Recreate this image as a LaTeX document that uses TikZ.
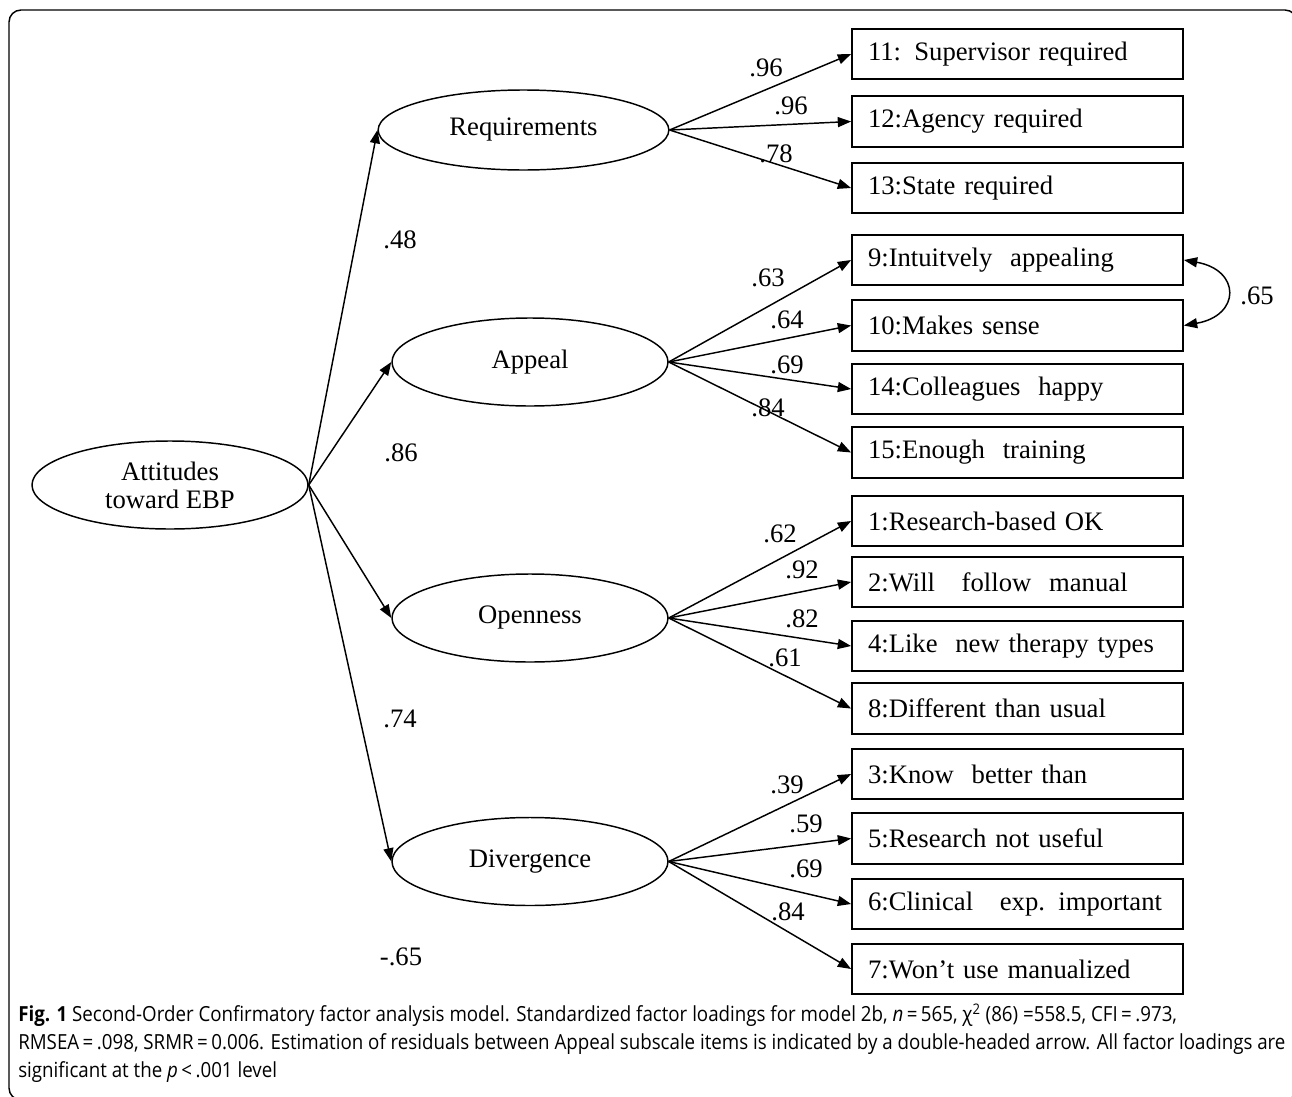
\documentclass[tikz,border=0pt]{standalone}
\usepackage{fontspec}
\setmainfont{Liberation Serif}
\newfontfamily\capfont{Open Sans}[FakeStretch=0.9]
\usetikzlibrary{arrows.meta,shapes.geometric}
\begin{document}
\begin{tikzpicture}[x=0.75pt,y=-0.75pt,
  lat/.style={draw,ellipse,line width=1.1pt,inner sep=0pt,minimum width=207pt,minimum height=66pt,font=\fontsize{20}{21}\selectfont,align=center},
  item/.style={draw,rectangle,line width=1.3pt,minimum height=38pt,text width=224.25pt,inner xsep=12pt,inner ysep=0pt,align=left,font=\fontsize{20}{21}\selectfont},
  ld/.style={font=\fontsize{20}{21}\selectfont,inner sep=0pt},
  arr/.style={-{Triangle[length=10pt,width=7.5pt]},line width=1.1pt},
  captxt/.style={font=\capfont\fontsize{15.6}{18}\selectfont,inner sep=0pt,anchor=base west},
]
\useasboundingbox (0,0) rectangle (1292,1096);
\begin{scope}
\clip (0,0) rectangle (1292,1096);
\draw[line width=1.1pt,rounded corners=9pt] (9,10) rectangle (1297,1100);
\end{scope}

% latent variables
\node[lat] (att) at (170,485) {Attitudes\\toward EBP};
\node[lat,minimum width=218pt,minimum height=60pt] (req) at (523.5,130) {Requirements};
\node[lat] (app) at (530,362) {Appeal};
\node[lat] (opn) at (530,618) {Openness};
\node[lat] (div) at (530,861.5) {Divergence};

% items
\node[item] (b11) at (1017.5,54) {11: Supervisor required};
\node[item] (b12) at (1017.5,121.5) {12:Agency required};
\node[item] (b13) at (1017.5,188) {13:State required};
\node[item] (b9) at (1017.5,260) {9:Intuitvely\ \ appealing};
\node[item] (b10) at (1017.5,325.5) {10:Makes sense};
\node[item] (b14) at (1017.5,389) {14:Colleagues\ \ happy};
\node[item] (b15) at (1017.5,452.5) {15:Enough\ \ training};
\node[item] (b1) at (1017.5,521) {1:Research-based OK};
\node[item] (b2) at (1017.5,582) {2:Will\ \ \ follow\ \ manual};
\node[item] (b4) at (1017.5,646) {4:Like\ \ new therapy types};
\node[item] (b8) at (1017.5,708.5) {8:Different than usual};
\node[item] (b3) at (1017.5,774) {3:Know\ \ better than};
\node[item] (b5) at (1017.5,838.5) {5:Research not useful};
\node[item] (b6) at (1017.5,904) {6:Clinical\ \ \ exp. important};
\node[item] (b7) at (1017.5,969) {7:Won’t use manualized};

% second-order paths
\draw[arr] (att.east) -- (req.west);
\draw[arr] (att.east) -- (app.west);
\draw[arr] (att.east) -- (opn.west);
\draw[arr] (att.east) -- (div.west);
\node[ld] (l48) at (400,240) {.48};
\node[ld] (l86) at (401,453) {.86};
\node[ld] (l74) at (400,719) {.74};
\node[ld] (l65m) at (401,957) {-.65};

% first-order paths
\foreach \b in {b11,b12,b13} \draw[arr] (req.east) -- (\b.west);
\foreach \b in {b9,b10,b14,b15} \draw[arr] (app.east) -- (\b.west);
\foreach \b in {b1,b2,b4,b8} \draw[arr] (opn.east) -- (\b.west);
\foreach \b in {b3,b5,b6,b7} \draw[arr] (div.east) -- (\b.west);

\node[ld] (r1) at (766,68) {.96};
\node[ld] (r2) at (791,106) {.96};
\node[ld] (r3) at (776,154) {.78};
\node[ld] (a1) at (768,278) {.63};
\node[ld] (a2) at (787,320) {.64};
\node[ld] (a3) at (787,365) {.69};
\node[ld] (a4) at (768,408) {.84};
\node[ld] (o1) at (780,534) {.62};
\node[ld] (o2) at (802,570) {.92};
\node[ld] (o3) at (802,619) {.82};
\node[ld] (o4) at (785,658) {.61};
\node[ld] (d1) at (787,785) {.39};
\node[ld] (d2) at (806,824) {.59};
\node[ld] (d3) at (806,869) {.69};
\node[ld] (d4) at (788,912) {.84};

% correlated residuals
\draw[{Triangle[length=10pt,width=7.5pt]}-{Triangle[length=10pt,width=7.5pt]},line width=1.1pt]
  (b9.east) .. controls +(57,10) and +(57,-10) .. (b10.east);
\node[ld] (c65) at (1257,296) {.65};

% caption
\node[captxt] (cap1) at (18,1021) {\textbf{Fig. 1} Second-Order Confirmatory factor analysis model. Standardized factor loadings for model 2b, \textit{n}\,=\,565, χ\textsuperscript{2} (86) =558.5, CFI\,=\,.973,};
\node[captxt] (cap2) at (18,1049) {RMSEA\,=\,.098, SRMR\,=\,0.006. Estimation of residuals between Appeal subscale items is indicated by a double-headed arrow. All factor loadings are};
\node[captxt] (cap3) at (18,1077) {significant at the \textit{p}\,<\,.001 level};
\end{tikzpicture}
\end{document}
